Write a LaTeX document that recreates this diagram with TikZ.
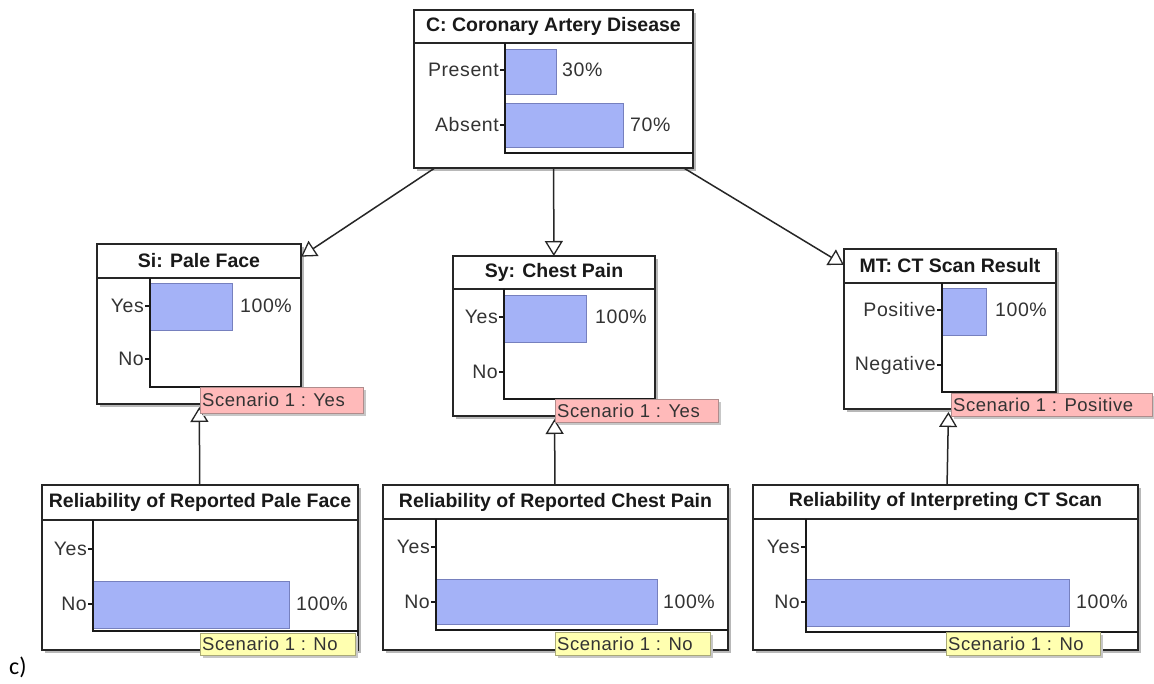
\documentclass[tikz,border=0pt]{standalone}
\usepackage{fontspec}
\setmainfont{Liberation Sans}
\newfontfamily\lblfont[LetterSpace=3]{Liberation Sans}
\newfontfamily\cfont{Carlito}
\usetikzlibrary{arrows.meta}
\definecolor{barfill}{RGB}{164,178,247}
\definecolor{barline}{RGB}{118,128,190}
\definecolor{pinkfill}{RGB}{255,186,186}
\definecolor{pinkline}{RGB}{175,140,140}
\definecolor{yelfill}{RGB}{255,255,176}
\definecolor{yelline}{RGB}{170,170,120}
\tikzset{
  nbox/.style={draw=black!85, line width=1.3pt, fill=white, inner sep=0pt, outer sep=0pt},
  shadowbox/.style={fill=black!28},
  bar/.style={fill=barfill, draw=barline, line width=0.8pt},
  axisline/.style={draw=black!90, line width=1.2pt},
  ttl/.style={font=\fontsize{19.5}{22}\selectfont\bfseries, text=black!90, inner sep=0pt},
  lbl/.style={font=\lblfont\fontsize{19.5}{22}\selectfont, text=black!80, inner sep=0pt},
  taglbl/.style={font=\lblfont\fontsize{18.5}{21}\selectfont, text=black!80, inner sep=0pt},
  arr/.style={draw=black!85, line width=1.5pt, -{Triangle[length=15pt,width=18pt,fill=white,line width=1.3pt]}},
  pinktag/.style={fill=pinkfill, draw=pinkline, line width=0.8pt},
  yeltag/.style={fill=yelfill, draw=yelline, line width=0.8pt},
}
% name, left, top, right, bottom, divider
\newcommand\bnnode[6]{%
  \fill[shadowbox] (#2+3,#3+3) rectangle (#4+3,#5+3);
  \node[nbox, minimum width={#4-#2}, minimum height={#5-#3}] (#1) at ({(#2+#4)/2},{(#3+#5)/2}) {};
  \draw[line width=1.2pt, black!85] (#2,#6) -- (#4,#6);
}
% axis x, divider y, axis bottom y, right x
\newcommand\bnaxis[4]{\draw[axisline] (#1,#2) -- (#1,#3) -- (#4,#3);}
% name, axis x, y, label
\newcommand\bnstate[4]{\draw[axisline] (#2-5,#3) -- (#2,#3); \node[lbl, anchor=east] (#1) at (#2-6,#3) {#4};}
% name, style, x0, y0, x1, y1, text
\newcommand\scentag[7]{%
  \fill[black!22] (#3+3,#4+3) rectangle (#5+3,#6+3);
  \draw[#2] (#3,#4) rectangle (#5,#6);
  \node[taglbl, anchor=west] (#1) at (#3+2,{(#4+#6)/2}) {#7};}
\begin{document}
\begin{tikzpicture}[x=1pt,y=-1pt]
\useasboundingbox[fill=white] (0,0) rectangle (1154,684);

% ---- C: Coronary Artery Disease
\bnnode{C}{414}{10}{693}{168}{43}
\node[ttl] (Ct) at (553.5,26.5) {C: Coronary Artery Disease};
\draw[bar] (505,49) rectangle (556,94);
\draw[bar] (505,103) rectangle (623,147);
\bnaxis{505}{43}{153}{693}
\bnstate{Cs1}{505}{70}{Present}
\bnstate{Cs2}{505}{125}{Absent}
\node[lbl, anchor=west] (Cp1) at (562,70) {30\%};
\node[lbl, anchor=west] (Cp2) at (630,125) {70\%};

% ---- Si: Pale Face
\bnnode{Si}{97}{244}{301}{404}{278}
\node[ttl] (Sit) at (199,261) {Si: Pale Face};
\draw[bar] (150,283) rectangle (232,330);
\bnaxis{150}{278}{387}{301}
\bnstate{Sis1}{150}{306}{Yes}
\bnstate{Sis2}{150}{359}{No}
\node[lbl, anchor=west] (Sip1) at (240,306) {100\%};

% ---- Sy: Chest Pain
\bnnode{Sy}{453}{256}{655}{416}{289}
\node[ttl] (Syt) at (554,272.5) {Sy: Chest Pain};
\draw[bar] (504,295) rectangle (586,342);
\bnaxis{504}{289}{399}{655}
\bnstate{Sys1}{504}{317}{Yes}
\bnstate{Sys2}{504}{372}{No}
\node[lbl, anchor=west] (Syp1) at (595,317) {100\%};

% ---- MT: CT Scan Result
\bnnode{MT}{844}{249}{1056}{409}{283}
\node[ttl] (MTt) at (950,266) {MT: CT Scan Result};
\draw[bar] (942,288) rectangle (986,335);
\bnaxis{942}{283}{392}{1056}
\bnstate{MTs1}{942}{310}{Positive}
\bnstate{MTs2}{942}{365}{Negative}
\node[lbl, anchor=west] (MTp1) at (995,310) {100\%};

% ---- Reliability of Reported Pale Face
\bnnode{RPF}{42}{485}{358}{650}{520}
\node[ttl] (RPFt) at (200,502.5) {Reliability of Reported Pale Face};
\draw[bar] (93,581) rectangle (289,628);
\bnaxis{93}{520}{631}{358}
\bnstate{RPFs1}{93}{549}{Yes}
\bnstate{RPFs2}{93}{604}{No}
\node[lbl, anchor=west] (RPFp) at (296,604) {100\%};

% ---- Reliability of Reported Chest Pain
\bnnode{RCP}{383}{485}{728}{650}{519}
\node[ttl] (RCPt) at (555.5,502) {Reliability of Reported Chest Pain};
\draw[bar] (436,579) rectangle (657,624);
\bnaxis{436}{519}{630}{728}
\bnstate{RCPs1}{436}{547}{Yes}
\bnstate{RCPs2}{436}{602}{No}
\node[lbl, anchor=west] (RCPp) at (663,602) {100\%};

% ---- Reliability of Interpreting CT Scan
\bnnode{RCT}{753}{485}{1138}{650}{519}
\node[ttl] (RCTt) at (945.5,502) {Reliability of Interpreting CT Scan};
\draw[bar] (806,579) rectangle (1069,626);
\bnaxis{806}{519}{632}{1138}
\bnstate{RCTs1}{806}{547}{Yes}
\bnstate{RCTs2}{806}{602}{No}
\node[lbl, anchor=west] (RCTp) at (1076,602) {100\%};

% ---- connectors
\draw[arr] (C) -- (Si);
\draw[arr] (C) -- (Sy);
\draw[arr] (C) -- (MT);
\draw[arr, shorten >=3pt] (RPF) -- (Si);
\draw[arr, shorten >=3pt] (RCP) -- (Sy);
\draw[arr, shorten >=3pt] (RCT) -- (MT);

% ---- scenario tags
\scentag{tSi}{pinktag}{200}{387}{363}{413}{Scenario 1 : Yes}
\scentag{tSy}{pinktag}{555}{399}{718}{422}{Scenario 1 : Yes}
\scentag{tMT}{pinktag}{951}{393}{1152}{416}{Scenario 1 : Positive}
\scentag{tRPF}{yeltag}{200}{633}{355}{655}{Scenario 1 : No}
\scentag{tRCP}{yeltag}{555}{632}{710}{655}{Scenario 1 : No}
\scentag{tRCT}{yeltag}{946}{632}{1100}{655}{Scenario 1 : No}

\node[font=\cfont\fontsize{24}{26}\selectfont, anchor=west, inner sep=0pt] (lab) at (9,667) {c)};
\end{tikzpicture}
\end{document}
